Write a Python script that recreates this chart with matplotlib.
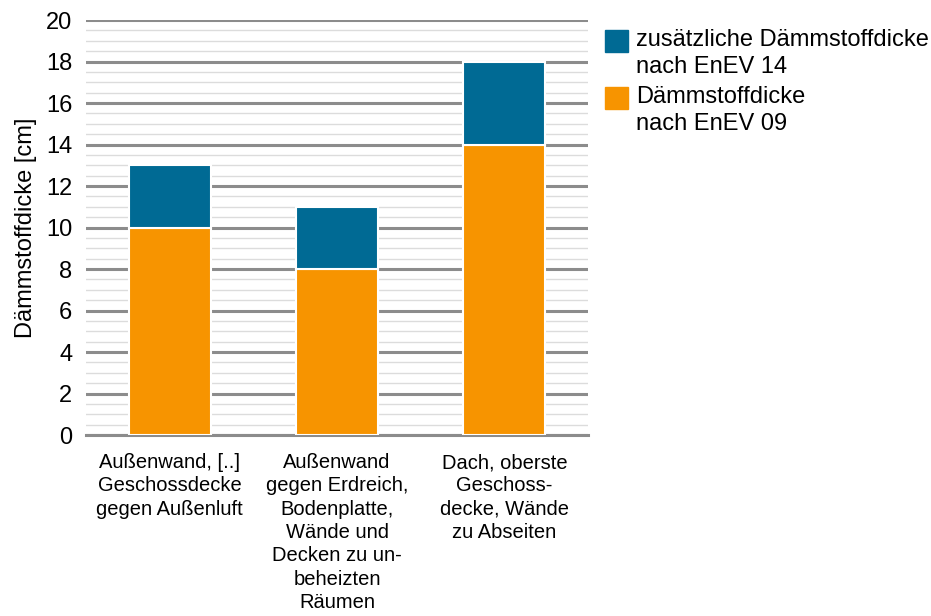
import numpy as np
import matplotlib
matplotlib.use('Agg')
import matplotlib.pyplot as plt
import matplotlib.patches as Patch

plt.rcParams['font.family'] = ['Liberation Sans', 'DejaVu Sans']

categories = ['Außenwand, [..]\nGeschossdecke\ngegen Außenluft',
              'Außenwand\ngegen Erdreich,\nBodenplatte,\nWände und\nDecken zu un-\nbeheizten\nRäumen',
              'Dach, oberste\nGeschoss-\ndecke, Wände\nzu Abseiten']
enev09 = [10, 8, 14]
extra14 = [3, 3, 4]
labels = ['zusätzliche Dämmstoffdicke\nnach EnEV 14', 'Dämmstoffdicke\nnach EnEV 09']
colors = ['#006a94', '#f79400']

W, H = 931, 616
fig = plt.figure(figsize=(W / 100, H / 100), dpi=100)
ax = fig.add_axes([0.0924, 0.2938, 0.5392, 0.6737])

x = np.arange(len(categories))
ax.bar(x, enev09, width=0.49, color=colors[1], edgecolor='white', linewidth=1.5, zorder=3)
ax.bar(x, extra14, bottom=enev09, width=0.49, color=colors[0], edgecolor='white', linewidth=1.5, zorder=3)

ax.set_xlim(-0.5, 2.5)
ax.set_ylim(0, 20)
ax.set_yticks(np.arange(0, 21, 2))
ax.set_yticks(np.arange(0, 20.1, 0.5), minor=True)
ax.grid(axis='y', which='major', color='#8c8c8c', linewidth=2.2, zorder=1)
ax.grid(axis='y', which='minor', color='#dcdcdc', linewidth=1, zorder=0)
for s in ['top', 'right', 'left']:
    ax.spines[s].set_visible(False)
ax.spines['bottom'].set_color('#8c8c8c')
ax.spines['bottom'].set_linewidth(2.2)
ax.tick_params(axis='both', which='both', length=0)
ax.tick_params(axis='y', labelsize=17, pad=10)
ax.set_xticks(x)
ax.set_xticklabels(categories, fontsize=14.5, linespacing=1.29)
ax.tick_params(axis='x', pad=13)
ax.set_ylabel('Dämmstoffdicke [cm]', fontsize=17, labelpad=6)

# legend drawn by hand: square next to the first text line
patch_tops = [30, 87]
for i, lab in enumerate(labels):
    top = patch_tops[i]
    fig.patches.append(Patch.Rectangle((605 / W, 1 - (top + 22) / H), 23 / W, 22 / H,
                                       color=colors[i], transform=fig.transFigure))
    fig.text(636 / W, 1 - (top - 1) / H, lab, fontsize=17, va='top', ha='left',
             linespacing=1.32)

fig.savefig('out.png', dpi=100)
